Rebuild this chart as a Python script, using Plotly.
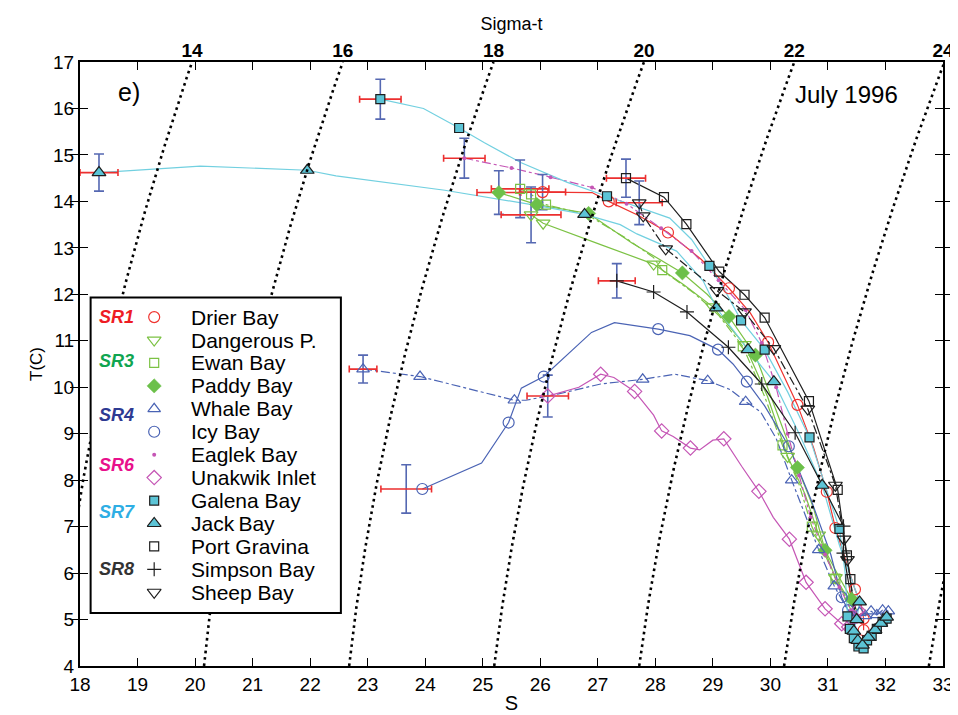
import numpy as np
import plotly.graph_objects as go

# ---------------- data ----------------
S_RANGE = [18, 33]
T_RANGE = [4, 17]
SIGMA_LEVELS = [14, 16, 18, 20, 22, 24, 26]
SIGMA_LABELED = [14, 16, 18, 20, 22, 24]

DRIER_S = [26.04, 26.9, 27.19, 27.7, 28.22, 28.8, 29.28, 29.65, 29.96, 30.47, 30.75, 30.98, 31.13, 31.3, 31.47, 31.58, 31.62, 31.62]
DRIER_T = [14.2, 14.19, 14.0, 13.7, 13.33, 12.75, 12.13, 11.6, 10.97, 9.62, 8.7, 7.75, 6.97, 6.3, 5.65, 5.3, 5.02, 4.77]
DRIER_MK = [0, 2, 4, 6, 8, 9, 11, 12, 14, 16, 17]

DANGER_S = [25.84, 26.05, 27.05, 27.97, 28.5, 29.0, 29.55, 29.95, 30.3, 30.6, 30.84, 31.13, 31.35, 31.45]
DANGER_T = [13.71, 13.53, 13.07, 12.65, 12.2, 11.73, 10.92, 9.8, 8.51, 7.7, 6.82, 5.9, 5.45, 5.2]
DANGER_MK = [0, 1, 3, 5, 6, 8, 10, 11]

EWAN_S = [25.65, 25.84, 26.1, 26.82, 27.5, 27.97, 28.12, 28.7, 29.1, 29.52, 29.9, 30.21, 30.5, 30.72, 30.95, 31.13, 31.3, 31.4]
EWAN_T = [14.27, 14.15, 13.93, 13.71, 13.2, 12.79, 12.52, 12.0, 11.55, 10.88, 9.8, 8.75, 7.9, 7.0, 6.4, 5.88, 5.5, 5.2]
EWAN_MK = [0, 1, 2, 6, 9, 11, 13, 15]

PADDY_S = [25.28, 25.94, 26.84, 27.6, 28.47, 28.9, 29.28, 29.74, 30.1, 30.47, 30.75, 30.95, 31.2, 31.41, 31.5]
PADDY_T = [14.19, 13.93, 13.74, 13.1, 12.46, 12.0, 11.52, 10.69, 9.5, 8.27, 7.4, 6.49, 5.9, 5.44, 5.2]
PADDY_MK = [0, 1, 2, 4, 6, 7, 9, 11, 13]

WHALE_S = [22.92, 23.91, 25.55, 25.75, 26.3, 27.05, 27.78, 28.34, 28.91, 29.3, 29.57, 29.83, 30.1, 30.37, 30.84, 31.11, 31.3, 31.45, 31.55, 31.65, 31.75, 31.85, 31.95, 32.05]
WHALE_T = [10.39, 10.23, 9.72, 9.72, 9.85, 10.07, 10.17, 10.28, 10.14, 9.95, 9.69, 9.47, 8.9, 8.0, 6.5, 5.72, 5.3, 5.05, 5.15, 5.08, 5.18, 5.1, 5.2, 5.18]
WHALE_MK = [0, 1, 2, 6, 8, 10, 13, 14, 15, 17, 18, 19, 20, 21, 22, 23]

ICY_S = [23.95, 24.98, 25.45, 25.67, 26.06, 26.89, 27.29, 28.05, 28.6, 29.09, 29.35, 29.59, 29.9, 30.32, 30.7, 31.05, 31.24, 31.35, 31.45]
ICY_T = [7.81, 8.37, 9.24, 9.98, 10.23, 11.18, 11.39, 11.25, 11.11, 10.81, 10.5, 10.12, 9.6, 8.73, 7.6, 6.4, 5.48, 5.2, 5.1]
ICY_MK = [0, 2, 4, 7, 9, 11, 13, 16, 17]

EAGLEK_S = [24.68, 25.5, 26.18, 26.9, 27.5, 28.1, 28.63, 29.1, 29.57, 29.85, 30.1, 30.3, 30.5, 30.7, 30.95, 31.2, 31.4, 31.5]
EAGLEK_T = [14.93, 14.72, 14.52, 14.3, 13.95, 13.42, 12.93, 12.3, 11.66, 10.95, 10.0, 9.0, 8.1, 7.2, 6.4, 5.7, 5.2, 4.95]
EAGLEK_MK = list(range(18))

UNAK_S = [26.13, 26.67, 27.05, 27.28, 27.64, 27.97, 28.11, 28.31, 28.61, 28.77, 29.0, 29.19, 29.5, 29.8, 30.05, 30.33, 30.62, 30.95, 31.24, 31.36, 31.45, 31.52]
UNAK_T = [9.81, 10.0, 10.28, 10.21, 9.91, 9.4, 9.06, 8.94, 8.69, 8.65, 8.86, 8.89, 8.3, 7.76, 7.2, 6.73, 5.8, 5.23, 4.91, 4.84, 5.05, 5.2]
UNAK_MK = [0, 2, 4, 6, 8, 11, 13, 15, 16, 17, 18, 19, 20, 21]

GALENA_S = [23.22, 23.97, 24.59, 25.03, 25.67, 26.47, 27.16, 27.68, 28.25, 28.63, 28.94, 29.2, 29.49, 29.9, 30.3, 30.68, 30.95, 31.2, 31.3, 31.34, 31.38, 31.45, 31.53, 31.62, 31.68, 31.76, 31.85, 31.95, 32.02]
GALENA_T = [16.2, 16.0, 15.58, 15.26, 14.83, 14.41, 14.11, 13.88, 13.64, 13.18, 12.61, 12.1, 11.44, 10.81, 9.9, 8.92, 7.9, 6.95, 6.0, 5.07, 4.8, 4.6, 4.42, 4.38, 4.55, 4.65, 4.8, 4.95, 5.02]
GALENA_MK = [0, 2, 6, 10, 12, 13, 15, 17, 19, 20, 21, 22, 23, 24, 25, 26, 27, 28]

JACK_S = [18.33, 20.09, 21.95, 22.45, 24.34, 25.9, 26.77, 27.39, 27.68, 28.37, 28.83, 29.06, 29.61, 30.06, 30.5, 30.9, 31.2, 31.55, 31.5, 31.45, 31.52, 31.6, 31.7, 31.82, 31.92, 32.02]
JACK_T = [14.62, 14.76, 14.67, 14.55, 14.24, 13.92, 13.72, 13.5, 13.3, 12.93, 12.29, 11.71, 10.81, 10.12, 9.0, 7.89, 6.6, 5.38, 5.0, 4.75, 4.55, 4.45, 4.62, 4.78, 4.92, 5.05]
JACK_MK = [0, 2, 6, 11, 12, 13, 15, 17, 18, 19, 20, 21, 22, 23, 24, 25]

PORTG_S = [27.49, 28.15, 28.54, 29.11, 29.55, 29.9, 30.67, 31.17, 31.33, 31.39, 31.45, 31.5]
PORTG_T = [14.5, 14.09, 13.51, 12.49, 11.99, 11.5, 9.7, 7.79, 6.38, 5.87, 5.3, 5.0]
PORTG_MK = [0, 1, 2, 3, 4, 5, 6, 7, 8, 9]

SIMPSON_S = [27.33, 27.97, 28.55, 29.27, 29.85, 30.43, 31.27, 31.27, 31.4, 31.48]
SIMPSON_T = [12.29, 12.05, 11.62, 10.86, 10.07, 9.02, 7.01, 6.43, 5.5, 5.0]
SIMPSON_MK = [0, 1, 2, 3, 4, 5, 6, 7]

SHEEP_S = [27.72, 27.79, 28.18, 29.07, 29.55, 30.06, 30.65, 31.13, 31.28, 31.34, 31.42, 31.5]
SHEEP_T = [13.97, 13.69, 12.98, 12.08, 11.62, 10.83, 9.53, 7.89, 6.73, 6.29, 5.6, 5.1]
SHEEP_MK = [0, 1, 2, 3, 4, 5, 6, 7, 8, 9]

# surface error bars (centre S, centre T, +/- S, +/- T)
ERR_S = [18.33, 22.92, 23.22, 23.67, 24.68, 25.28, 25.65, 25.84, 26.04, 26.13, 27.33, 27.49, 27.72]
ERR_T = [14.62, 10.39, 16.2, 7.81, 14.93, 14.19, 14.27, 13.71, 14.2, 9.81, 12.29, 14.5, 13.97]
ERR_DS = [0.33, 0.24, 0.36, 0.44, 0.36, 0.38, 0.5, 0.52, 0.4, 0.36, 0.32, 0.34, 0.4]
ERR_DT = [0.40, 0.30, 0.43, 0.52, 0.43, 0.47, 0.62, 0.6, 0.38, 0.45, 0.37, 0.41, 0.47]

SERIES = [
    ("Drier Bay", DRIER_S, DRIER_T, DRIER_MK),
    ("Dangerous P.", DANGER_S, DANGER_T, DANGER_MK),
    ("Ewan Bay", EWAN_S, EWAN_T, EWAN_MK),
    ("Paddy Bay", PADDY_S, PADDY_T, PADDY_MK),
    ("Whale Bay", WHALE_S, WHALE_T, WHALE_MK),
    ("Icy Bay", ICY_S, ICY_T, ICY_MK),
    ("Eaglek Bay", EAGLEK_S, EAGLEK_T, EAGLEK_MK),
    ("Unakwik Inlet", UNAK_S, UNAK_T, UNAK_MK),
    ("Galena Bay", GALENA_S, GALENA_T, GALENA_MK),
    ("Jack\u2009Bay", JACK_S, JACK_T, JACK_MK),
    ("Port Gravina", PORTG_S, PORTG_T, PORTG_MK),
    ("Simpson Bay", SIMPSON_S, SIMPSON_T, SIMPSON_MK),
    ("Sheep Bay", SHEEP_S, SHEEP_T, SHEEP_MK),
]

REGION_LABELS = ["SR1", "SR3", "SR4", "SR6", "SR7", "SR8"]
REGION_ROWS = [0, 1.9, 4.29, 6.43, 8.5, 10.98]   # legend row at which each region label sits

# ---------------- styles ----------------
RED = "#ef3430"
GREEN = "#7cc244"
BLUE = "#4a63b4"
MAGENTA = "#c556b5"
CYAN_L = "#72d0e0"
CYAN_F = "#5cc4d6"
BLACK = "#1e1e1e"

STYLE = {
    "Drier Bay": dict(lc=RED, dash="solid", sym="circle-open", size=11, mc=RED, ml=RED, mw=1.2),
    "Dangerous P.": dict(lc=GREEN, dash="solid", sym="triangle-down-open", size=12, mc=GREEN, ml=GREEN, mw=1.2),
    "Ewan Bay": dict(lc=GREEN, dash="dashdot", sym="square-open", size=9, mc=GREEN, ml=GREEN, mw=1.2),
    "Paddy Bay": dict(lc=GREEN, dash="solid", sym="diamond", size=11, mc="#6cc04a", ml="#6cc04a", mw=0.5),
    "Whale Bay": dict(lc=BLUE, dash="dashdot", sym="triangle-up-open", size=11, mc=BLUE, ml=BLUE, mw=1.2),
    "Icy Bay": dict(lc=BLUE, dash="solid", sym="circle-open", size=11, mc=BLUE, ml=BLUE, mw=1.2),
    "Eaglek Bay": dict(lc=MAGENTA, dash="dashdot", sym="circle", size=4, mc=MAGENTA, ml=MAGENTA, mw=0),
    "Unakwik Inlet": dict(lc=MAGENTA, dash="solid", sym="diamond-open", size=11, mc=MAGENTA, ml=MAGENTA, mw=1.2),
    "Galena Bay": dict(lc=CYAN_L, dash="solid", sym="square", size=9, mc=CYAN_F, ml=BLACK, mw=1.2),
    "Jack\u2009Bay": dict(lc=CYAN_L, dash="solid", sym="triangle-up", size=12, mc=CYAN_F, ml=BLACK, mw=1.2),
    "Port Gravina": dict(lc=BLACK, dash="solid", sym="square-open", size=9, mc=BLACK, ml=BLACK, mw=1.2),
    "Simpson Bay": dict(lc=BLACK, dash="solid", sym="cross-thin-open", size=10, mc=BLACK, ml=BLACK, mw=1.2),
    "Sheep Bay": dict(lc=BLACK, dash="dashdot", sym="triangle-down-open", size=12, mc=BLACK, ml=BLACK, mw=1.2),
}
REGION_COLORS = ["#ee1c24", "#10a550", "#2e3a92", "#e8108c", "#2eaee4", "#333333"]

NARROW = "Liberation Sans Narrow, Arial Narrow, Liberation Sans, Arial"
SANS = "Liberation Sans, Arial, sans-serif"

# legend panel placement (paper fractions) and its internal column positions
BOX_X = [0.0123, 0.3023]
BOX_Y = [0.0879, 0.6103]
ROW_RANGE = [12.9, -0.86]     # legend rows: bottom edge .. top edge of the panel
COL_REGION, COL_MARKER, COL_TEXT = 0.104, 0.254, 0.392


# ---------------- sigma-t isopycnals (UNESCO EOS-80, p = 0) ----------------
def sigma_t(S, T):
    rw = (999.842594 + 6.793952e-2 * T - 9.095290e-3 * T**2 + 1.001685e-4 * T**3
          - 1.120083e-6 * T**4 + 6.536332e-9 * T**5)
    A = 8.24493e-1 - 4.0899e-3 * T + 7.6438e-5 * T**2 - 8.2467e-7 * T**3 + 5.3875e-9 * T**4
    B = -5.72466e-3 + 1.0227e-4 * T - 1.6546e-6 * T**2
    C = 4.8314e-4
    return rw + A * S + B * S**1.5 + C * S**2 - 1000.0


def salinity_on_isopycnal(sig, T):
    lo = np.zeros_like(T)
    hi = np.full_like(T, 45.0)
    for _ in range(60):
        mid = 0.5 * (lo + hi)
        f = sigma_t(mid, T) - sig
        lo = np.where(f < 0, mid, lo)
        hi = np.where(f >= 0, mid, hi)
    return 0.5 * (lo + hi)


fig = go.Figure()

T_grid = np.linspace(T_RANGE[0], T_RANGE[1], 131)
for sig in SIGMA_LEVELS:
    fig.add_trace(go.Scatter(
        x=salinity_on_isopycnal(sig, T_grid), y=T_grid, xaxis="x2", yaxis="y",
        mode="lines", line=dict(color="black", width=2.6, dash="2.6px,3.8px"),
        showlegend=False, hoverinfo="skip"))

top_S = salinity_on_isopycnal(np.array(SIGMA_LABELED, float), np.full(len(SIGMA_LABELED), float(T_RANGE[1])))
top_S = np.minimum(top_S, S_RANGE[1])

# profile lines
for name, S, T, mk in SERIES:
    st = STYLE[name]
    fig.add_trace(go.Scatter(x=S, y=T, mode="lines",
                             line=dict(color=st["lc"], width=1.2, dash=st["dash"]),
                             showlegend=False, hoverinfo="skip"))

# error bars (horizontal red for S, vertical blue for T)
fig.add_trace(go.Scatter(
    x=ERR_S, y=ERR_T, mode="markers", marker=dict(size=1, color="rgba(0,0,0,0)"),
    error_x=dict(type="data", array=ERR_DS, color="#ec2f2f", thickness=1.6, width=3.5),
    error_y=dict(type="data", array=ERR_DT, color="#5568b2", thickness=1.6, width=5),
    showlegend=False, hoverinfo="skip"))

# profile markers
for name, S, T, mk in SERIES:
    st = STYLE[name]
    fig.add_trace(go.Scatter(
        x=[S[i] for i in mk], y=[T[i] for i in mk], mode="markers", name=name,
        marker=dict(symbol=st["sym"], size=st["size"], color=st["mc"],
                    line=dict(color=st["ml"], width=st["mw"])),
        showlegend=False))

# ---------------- legend panel (own small subplot drawn above the data) ----------------
fig.add_trace(go.Scatter(
    x=[0, 1, 1, 0, 0], y=[ROW_RANGE[0], ROW_RANGE[0], ROW_RANGE[1], ROW_RANGE[1], ROW_RANGE[0]],
    xaxis="x3", yaxis="y3", mode="lines", fill="toself", fillcolor="white",
    line=dict(width=0, color="white"), showlegend=False, hoverinfo="skip"))
for row, (name, S, T, mk) in enumerate(SERIES):
    st = STYLE[name]
    fig.add_trace(go.Scatter(
        x=[COL_MARKER], y=[row], xaxis="x3", yaxis="y3", mode="markers",
        marker=dict(symbol=st["sym"], size=st["size"], color=st["mc"],
                    line=dict(color=st["ml"], width=st["mw"])),
        showlegend=False, hoverinfo="skip"))
    fig.add_annotation(xref="x3", yref="y3", x=COL_TEXT, y=row, text=name,
                       xanchor="left", yanchor="middle", showarrow=False,
                       font=dict(family=SANS, size=21, color="black"))
for lab, col, r in zip(REGION_LABELS, REGION_COLORS, REGION_ROWS):
    fig.add_annotation(xref="x3", yref="y3", x=COL_REGION, y=r,
                       text="<b><i>%s</i></b>" % lab, showarrow=False,
                       xanchor="center", yanchor="middle",
                       font=dict(family=SANS, size=18, color=col))
fig.add_shape(type="rect", xref="paper", yref="paper", layer="above",
              x0=BOX_X[0], x1=BOX_X[1], y0=BOX_Y[0], y1=BOX_Y[1],
              line=dict(color="black", width=2), fillcolor="rgba(0,0,0,0)")

fig.add_annotation(xref="x", yref="y", x=18.85, y=16.35, text="e)", showarrow=False,
                   font=dict(family=SANS, size=25, color="black"))
fig.add_annotation(xref="x", yref="y", x=31.33, y=16.3, text="July 1996", showarrow=False,
                   font=dict(family=SANS, size=24, color="black"))

axis_common = dict(showgrid=False, zeroline=False)
hidden = dict(visible=False, showgrid=False, zeroline=False, fixedrange=True)
fig.update_layout(
    width=958, height=715,
    margin=dict(l=72, r=16, t=54, b=47),
    paper_bgcolor="white", plot_bgcolor="white",
    font=dict(family=SANS, color="black"),
    showlegend=False,
    xaxis=dict(range=S_RANGE, tick0=18, dtick=1, ticks="inside", ticklen=8, tickwidth=1,
               tickcolor="black", showline=True, linewidth=2, linecolor="black",
               mirror="allticks", tickfont=dict(family=NARROW, size=19),
               title=dict(text="S", font=dict(family=NARROW, size=20), standoff=2),
               domain=[0, 1], **axis_common),
    xaxis2=dict(range=S_RANGE, overlaying="x", side="top", anchor="y",
                tickmode="array", tickvals=list(top_S), ticktext=[str(s) for s in SIGMA_LABELED],
                ticks="", showline=False,
                tickfont=dict(family=NARROW, size=19, weight="bold"),
                title=dict(text="Sigma-t", font=dict(family=NARROW, size=18), standoff=4),
                **axis_common),
    yaxis=dict(range=T_RANGE, tick0=4, dtick=1, ticks="inside", ticklen=8, tickwidth=1,
               tickcolor="black", showline=True, linewidth=2, linecolor="black",
               mirror="allticks", tickfont=dict(family=NARROW, size=19),
               title=dict(text="T(C)", font=dict(family=NARROW, size=17), standoff=6),
               domain=[0, 1], **axis_common),
    xaxis3=dict(domain=BOX_X, range=[0, 1], anchor="y3", **hidden),
    yaxis3=dict(domain=BOX_Y, range=ROW_RANGE, anchor="x3", **hidden),
)

fig.write_html("out.html")
